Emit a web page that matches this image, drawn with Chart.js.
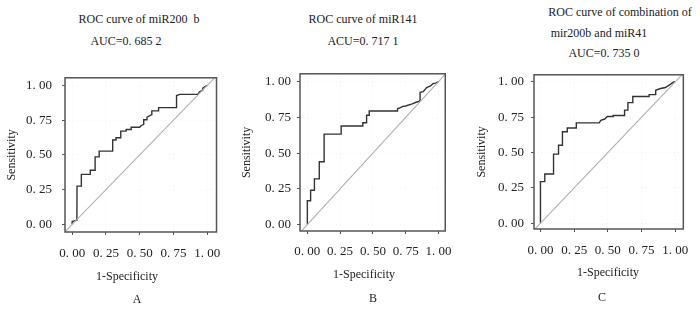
<!DOCTYPE html>
<html><head><meta charset="utf-8">
<script src="https://cdn.jsdelivr.net/npm/chart.js@4.4.1/dist/chart.umd.min.js"></script>
<style>
html,body{margin:0;padding:0;background:#fff;}
body{width:700px;height:311px;position:relative;overflow:hidden;font-family:"Liberation Serif","Times New Roman",serif;color:#222;}
canvas{position:absolute;}
.t{position:absolute;transform:translate(-50%,-50%);white-space:nowrap;font-size:12px;line-height:1;}
</style></head><body>
<canvas id="cA" width="232" height="240" style="left:0px;top:60px;width:232px;height:240px"></canvas>
<canvas id="cB" width="230" height="240" style="left:232px;top:60px;width:230px;height:240px"></canvas>
<canvas id="cC" width="238" height="240" style="left:462px;top:60px;width:238px;height:240px"></canvas>

<div class="t" style="left:139px;top:19px">ROC curve of miR200&nbsp;&nbsp;b</div>
<div class="t" style="left:126px;top:41px">AUC=0. 685 2</div>
<div class="t" style="left:127px;top:276px">1-Specificity</div>
<div class="t" style="left:137px;top:299px">A</div>

<div class="t" style="left:363px;top:19px">ROC curve of miR141</div>
<div class="t" style="left:363px;top:41px">ACU=0. 717 1</div>
<div class="t" style="left:364px;top:274px">1-Specificity</div>
<div class="t" style="left:373px;top:298px">B</div>

<div class="t" style="left:620px;top:12px">ROC curve of combination of</div>
<div class="t" style="left:599px;top:33px">mir200b and miR41</div>
<div class="t" style="left:604px;top:53px">AUC=0. 735 0</div>
<div class="t" style="left:608px;top:272px">1-Specificity</div>
<div class="t" style="left:602px;top:297px">C</div>

<script>
const tickValues = [0, 0.25, 0.5, 0.75, 1];
const tickLabels = ['0. 00', '0. 25', '0. 50', '0. 75', '1. 00'];
const yTitle = 'Sensitivity';
const diagX = [-0.1, 1.1];
const diagY = [-0.1, 1.1];

const fprA = [0, 0, 0.035, 0.036, 0.068, 0.068, 0.134, 0.134, 0.17, 0.17, 0.2, 0.2, 0.30, 0.30, 0.325, 0.325, 0.36, 0.36, 0.40, 0.40, 0.437, 0.437, 0.50, 0.51, 0.53, 0.53, 0.554, 0.554, 0.59, 0.59, 0.64, 0.64, 0.773, 0.773, 0.797, 0.931, 0.943, 0.967, 0.967, 1];
const tprA = [0, 0.02, 0.03, 0.275, 0.275, 0.36, 0.36, 0.39, 0.39, 0.486, 0.486, 0.527, 0.527, 0.607, 0.607, 0.623, 0.623, 0.671, 0.671, 0.683, 0.683, 0.699, 0.699, 0.71, 0.72, 0.753, 0.753, 0.772, 0.79, 0.817, 0.817, 0.84, 0.84, 0.927, 0.936, 0.936, 0.954, 0.966, 0.98, 1];

const fprB = [0, 0, 0.025, 0.025, 0.054, 0.054, 0.091, 0.091, 0.128, 0.128, 0.258, 0.258, 0.423, 0.423, 0.452, 0.452, 0.472, 0.472, 0.688, 0.688, 0.71, 0.73, 0.75, 0.8, 0.83, 0.855, 0.86, 0.86, 0.884, 0.91, 0.94, 0.958, 0.98, 1];
const tprB = [0, 0.167, 0.167, 0.24, 0.24, 0.32, 0.32, 0.44, 0.44, 0.633, 0.633, 0.69, 0.69, 0.712, 0.712, 0.765, 0.765, 0.795, 0.795, 0.81, 0.818, 0.827, 0.83, 0.845, 0.856, 0.863, 0.87, 0.925, 0.93, 0.959, 0.97, 0.986, 0.99, 1];

const fprC = [0, 0, 0.032, 0.032, 0.097, 0.097, 0.134, 0.134, 0.163, 0.163, 0.199, 0.199, 0.266, 0.266, 0.436, 0.448, 0.477, 0.496, 0.54, 0.54, 0.624, 0.624, 0.649, 0.649, 0.685, 0.685, 0.806, 0.806, 0.855, 0.855, 0.891, 0.927, 0.963, 0.988, 1];
const tprC = [0, 0.294, 0.294, 0.348, 0.348, 0.489, 0.489, 0.552, 0.552, 0.647, 0.647, 0.674, 0.674, 0.71, 0.71, 0.728, 0.737, 0.755, 0.755, 0.762, 0.762, 0.80, 0.80, 0.853, 0.853, 0.896, 0.896, 0.91, 0.91, 0.94, 0.953, 0.96, 0.982, 1.0, 1];

const framePlugin = {
  id: 'frame',
  afterDraw(chart) {
    const a = chart.chartArea, ctx = chart.ctx;
    ctx.save();
    ctx.strokeStyle = '#555';
    ctx.lineWidth = 1.5;
    ctx.strokeRect(a.left, a.top, a.right - a.left, a.bottom - a.top);
    ctx.restore();
  }
};

function pts(xs, ys) { return xs.map((x, i) => ({ x: x, y: ys[i] })); }

function makeChart(id, fpr, tpr, c) {
  const font = { family: '"Liberation Serif", "Times New Roman", serif', size: 12 };
  const tickFont = { family: '"Liberation Serif", "Times New Roman", serif', size: 13 };
  return new Chart(document.getElementById(id), {
    type: 'scatter',
    data: {
      datasets: [
        { data: pts(diagX, diagY), showLine: true, borderColor: '#b0b0b0', borderWidth: 1.1, pointRadius: 0, clip: 0 },
        { data: pts(fpr, tpr), showLine: true, borderColor: '#333', borderWidth: 1.4, pointRadius: 0 }
      ]
    },
    options: {
      responsive: false, animation: false, devicePixelRatio: 1,
      layout: { padding: { left: 0, top: c.padTop, right: c.padRight, bottom: 0 } },
      plugins: { legend: { display: false }, tooltip: { enabled: false } },
      scales: {
        x: {
          type: 'linear', min: c.xMin, max: c.xMax,
          afterBuildTicks: s => { s.ticks = tickValues.map(v => ({ value: v })); },
          afterFit: s => { s.height = c.xHeight; },
          ticks: { callback: (v, i) => tickLabels[i], autoSkip: false, maxRotation: 0, padding: c.xTickPad, color: '#222', font: tickFont },
          grid: { color: 'rgba(0,0,0,0.05)', tickColor: '#555', tickLength: 3, tickWidth: 1 },
          border: { display: false, dash: [1, 3] }
        },
        y: {
          type: 'linear', min: c.yMin, max: c.yMax,
          afterBuildTicks: s => { s.ticks = tickValues.map(v => ({ value: v })); },
          afterFit: s => { s.width = c.yWidth; },
          ticks: { callback: (v, i) => tickLabels[i], autoSkip: false, padding: c.yTickPad, color: '#222', font: tickFont },
          grid: { color: 'rgba(0,0,0,0.05)', tickColor: '#555', tickLength: 3, tickWidth: 1 },
          border: { display: false, dash: [1, 3] },
          title: { display: true, text: yTitle, color: '#222', font: font, padding: { top: c.yTitlePad, bottom: 0 } }
        }
      }
    },
    plugins: [framePlugin]
  });
}

makeChart('cA', fprA, tprA, { padTop: 10, padRight: 13, yWidth: 65, xHeight: 68, xMin: -0.053, xMax: 1.069, yMin: -0.055, yMax: 1.055, xTickPad: 11, yTickPad: 10, yTitlePad: 4.5 });
makeChart('cB', fprB, tprB, { padTop: 11, padRight: 12, yWidth: 68, xHeight: 69, xMin: -0.056, xMax: 1.052, yMin: -0.045, yMax: 1.055, xTickPad: 10, yTickPad: 6, yTitlePad: 7.5 });
makeChart('cC', fprC, tprC, { padTop: 9, padRight: 14, yWidth: 72, xHeight: 71, xMin: -0.048, xMax: 1.06, yMin: -0.041, yMax: 1.05, xTickPad: 11, yTickPad: 7, yTitlePad: 12.5 });
</script>
</body></html>
